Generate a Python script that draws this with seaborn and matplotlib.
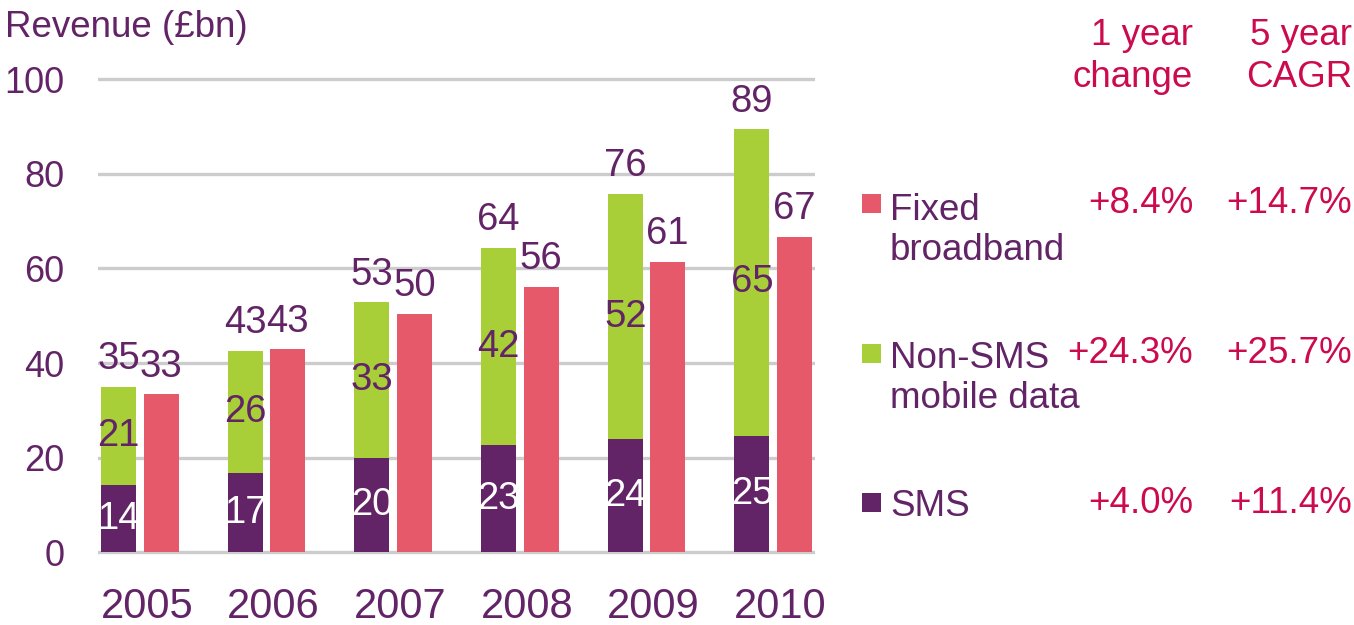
import pandas as pd
import matplotlib
matplotlib.use("Agg")
import matplotlib.pyplot as plt
from matplotlib.patches import Rectangle
from matplotlib.transforms import ScaledTranslation
import seaborn as sns

# revenue in GBP bn
years = ["2005", "2006", "2007", "2008", "2009", "2010"]
sms = [14.3, 16.7, 20.0, 22.6, 23.9, 24.7]
non_sms = [20.7, 25.9, 32.8, 41.8, 51.8, 64.7]
broadband = [33.4, 42.9, 50.4, 56.1, 61.4, 66.6]

legend_labels = ["Fixed\nbroadband", "Non-SMS\nmobile data", "SMS"]
one_year = ["+8.4%", "+24.3%", "+4.0%"]
five_year = ["+14.7%", "+25.7%", "+11.4%"]

PURPLE = "#622466"
GREEN = "#A8CE38"
RED = "#E6596A"
CRIMSON = "#CC0A4E"
GRID = "#CCCCCC"

W, H = 1354, 625


def fx(x):
    return x / W


def fy(y):
    return 1 - y / H


sns.set_theme(style="white")
plt.rcParams["font.family"] = ["Liberation Sans", "DejaVu Sans"]

mobile_total = [a + b for a, b in zip(sms, non_sms)]
top_df = pd.DataFrame({
    "year": years * 2,
    "kind": ["Mobile"] * len(years) + ["Fixed"] * len(years),
    "value": mobile_total + broadband,
})
sms_df = pd.DataFrame({
    "year": years * 2,
    "kind": ["Mobile"] * len(years) + ["Fixed"] * len(years),
    "value": sms + [0] * len(years),
})

fig = plt.figure(figsize=(W / 100, H / 100), dpi=100)
ax = fig.add_axes([fx(98), fy(555.3), fx(815) - fx(98), fy(76.2) - fy(555.3)])

sns.barplot(data=top_df, x="year", y="value", hue="kind", hue_order=["Mobile", "Fixed"],
            palette=[GREEN, RED], saturation=1, width=0.67, gap=0.176, linewidth=0,
            legend=False, errorbar=None, ax=ax)
sns.barplot(data=sms_df, x="year", y="value", hue="kind", hue_order=["Mobile", "Fixed"],
            palette=[PURPLE, PURPLE], saturation=1, width=0.67, gap=0.176, linewidth=0,
            legend=False, errorbar=None, ax=ax)

ax.set_xlim(-0.33, 5.33)
ax.set_ylim(-0.6, 100.6)
ax.set_yticks(range(0, 101, 20))
ax.yaxis.grid(True, color=GRID, linewidth=2.4)
ax.set_axisbelow(True)
for s in ax.spines.values():
    s.set_visible(False)
ax.set_xlabel("")
ax.set_ylabel("")
ax.tick_params(axis="y", length=0, pad=24, labelsize=26, labelcolor=PURPLE)
ax.tick_params(axis="x", length=0, pad=23, labelsize=30, labelcolor=PURPLE)
# year labels sit a little right of the bar pairs in the original
shift = ScaledTranslation(7 / 100, 0, fig.dpi_scale_trans)
for lbl in ax.get_xticklabels():
    lbl.set_transform(lbl.get_transform() + shift)

LABEL_SIZE = 27.5
mobile_bars = ax.containers[0]
fixed_bars = ax.containers[1]
for i, bar in enumerate(mobile_bars):
    cx = bar.get_x() + bar.get_width() / 2
    ax.text(cx, sms[i] / 2, f"{sms[i]:.0f}", ha="center", va="center",
            fontsize=LABEL_SIZE, color="white")
    ax.text(cx, sms[i] + non_sms[i] / 2, f"{non_sms[i]:.0f}", ha="center", va="center",
            fontsize=LABEL_SIZE, color=PURPLE)
    ax.annotate(f"{mobile_total[i]:.0f}", (cx, mobile_total[i]), xytext=(0, 7),
                textcoords="offset points", ha="center", va="bottom",
                fontsize=LABEL_SIZE, color=PURPLE)
for i, bar in enumerate(fixed_bars):
    cx = bar.get_x() + bar.get_width() / 2
    ax.annotate(f"{broadband[i]:.0f}", (cx, broadband[i]), xytext=(0, 7),
                textcoords="offset points", ha="center", va="bottom",
                fontsize=LABEL_SIZE, color=PURPLE)

TEXT_SIZE = 26.5
fig.text(fx(5), fy(37), "Revenue (£bn)", ha="left", va="baseline", fontsize=TEXT_SIZE, color=PURPLE)

# growth columns (baseline anchors the last line)
fig.text(fx(1193), fy(87), "1 year\nchange", ha="right", va="baseline", multialignment="right",
         fontsize=TEXT_SIZE, color=CRIMSON, linespacing=1.25)
fig.text(fx(1352), fy(87), "5 year\nCAGR", ha="right", va="baseline", multialignment="right",
         fontsize=TEXT_SIZE, color=CRIMSON, linespacing=1.25)

# legend rows
square_tops = [194, 344, 493]
label_baselines = [260, 408, 516]
value_baselines = [213, 363, 513]
colors = [RED, GREEN, PURPLE]
for i in range(3):
    fig.add_artist(Rectangle((fx(862), fy(square_tops[i] + 19)), fx(19), fy(0) - fy(19),
                             transform=fig.transFigure, color=colors[i], linewidth=0))
    fig.text(fx(890), fy(label_baselines[i]), legend_labels[i], ha="left", va="baseline",
             fontsize=TEXT_SIZE, color=PURPLE, linespacing=1.17)
    fig.text(fx(1193), fy(value_baselines[i]), one_year[i], ha="right", va="baseline",
             fontsize=TEXT_SIZE, color=CRIMSON)
    fig.text(fx(1352), fy(value_baselines[i]), five_year[i], ha="right", va="baseline",
             fontsize=TEXT_SIZE, color=CRIMSON)

fig.savefig("out.png", dpi=100)
